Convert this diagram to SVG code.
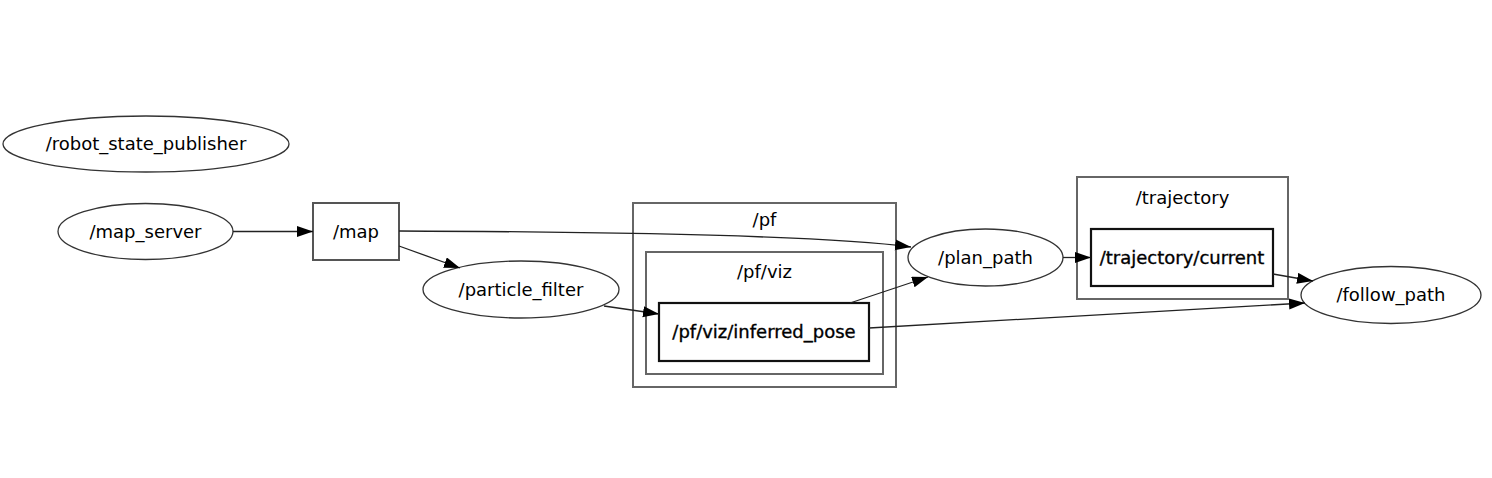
<svg xmlns="http://www.w3.org/2000/svg" width="1492" height="478" viewBox="0 0 1492 478">
<style>
text{font-family:"DejaVu Sans","Liberation Sans",sans-serif;font-size:18px;fill:#000;text-anchor:middle}
.node ellipse{fill:none;stroke:#333;stroke-width:1.3}
.topic rect{fill:none;stroke:#555;stroke-width:2}
.cluster rect{fill:none;stroke:#666;stroke-width:2}
.inner rect{fill:none;stroke:#111;stroke-width:2.2}
.inner text{stroke:#000;stroke-width:0.35}
.edges path{fill:none;stroke:#222;stroke-width:1.3}
</style>
<defs>
<marker id="ah" markerUnits="userSpaceOnUse" markerWidth="17" markerHeight="12" refX="16" refY="5.5" orient="auto">
<path d="M0,0 L16,5.5 L0,11 z" fill="#000"/>
</marker>
</defs>
<rect width="1492" height="478" fill="#fff"/>
<g id="cluster_pf" class="cluster"><rect x="633" y="203" width="263" height="184"/><text x="764.5" y="226">/pf</text></g>
<g id="cluster_pf_viz" class="cluster"><rect x="646" y="252" width="237" height="122"/><text x="764.5" y="278">/pf/viz</text></g>
<g id="cluster_trajectory" class="cluster"><rect x="1077" y="177" width="211" height="122"/><text x="1182.5" y="204">/trajectory</text></g>
<g id="robot_state_publisher" class="node"><ellipse cx="146" cy="144" rx="143" ry="28"/><text x="146" y="150">/robot_state_publisher</text></g>
<g id="map_server" class="node"><ellipse cx="145.5" cy="231.5" rx="87.5" ry="28"/><text x="145.5" y="238">/map_server</text></g>
<g id="map" class="topic"><rect x="313" y="203" width="86" height="57"/><text x="356" y="238">/map</text></g>
<g id="particle_filter" class="node"><ellipse cx="521" cy="289.5" rx="98" ry="28.5"/><text x="521" y="296">/particle_filter</text></g>
<g id="inferred_pose" class="inner"><rect x="659" y="303" width="210" height="58"/><text x="764" y="338">/pf/viz/inferred_pose</text></g>
<g id="plan_path" class="node"><ellipse cx="985.5" cy="257.5" rx="77.5" ry="28.5"/><text x="985.5" y="264">/plan_path</text></g>
<g id="trajectory_current" class="inner"><rect x="1091" y="229" width="182" height="57"/><text x="1182" y="264">/trajectory/current</text></g>
<g id="follow_path" class="node"><ellipse cx="1391" cy="295" rx="90" ry="28.5"/><text x="1391" y="301">/follow_path</text></g>
<g id="connectors" class="edges">
<path d="M233,231.5 L313,231.5" marker-end="url(#ah)"/>
<path d="M399,246 L460,268" marker-end="url(#ah)"/>
<path d="M399,231 C650,232 830,236 911,247" marker-end="url(#ah)"/>
<path d="M604,306 L659,314" marker-end="url(#ah)"/>
<path d="M850,303 L928,277" marker-end="url(#ah)"/>
<path d="M869,328 Q1090,316 1305,303" marker-end="url(#ah)"/>
<path d="M1063,257.5 L1091,257.5" marker-end="url(#ah)"/>
<path d="M1273,274 L1313,281" marker-end="url(#ah)"/>
</g>
</svg>
